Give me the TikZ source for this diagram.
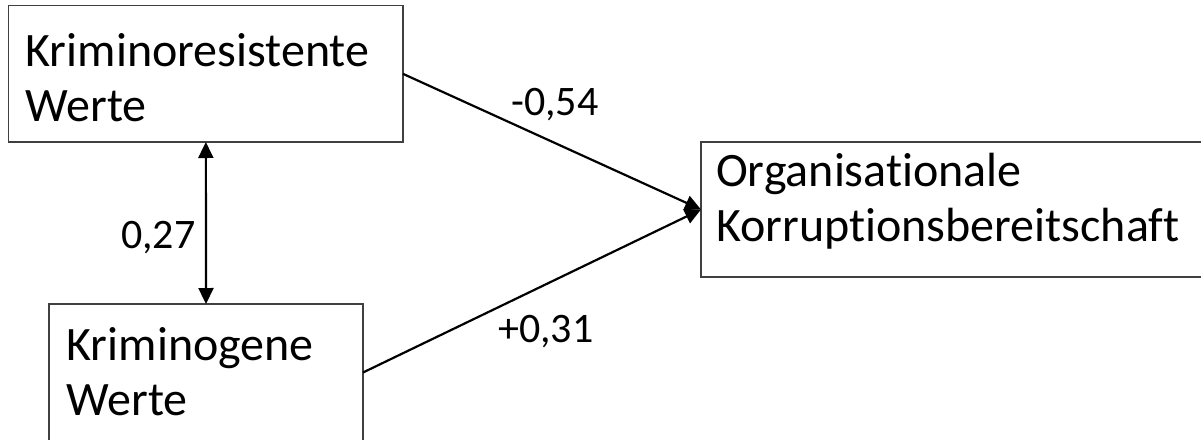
\documentclass[tikz,border=0pt]{standalone}
\usepackage{fontspec}
\setmainfont[Ligatures={NoCommon}]{Carlito}
\usetikzlibrary{arrows.meta}
\tikzset{
  box/.style={draw=black!75, line width=1.3pt, inner sep=0pt, outer sep=0pt, rectangle, anchor=north west},
  boxtext/.style={font=\fontsize{48}{55}\selectfont, inner sep=0pt, anchor=base west},
  coef/.style={font=\fontsize{42}{50}\selectfont, inner sep=0pt, anchor=base west},
  conn/.style={line width=2.2pt, black},
  tip/.style={-{Triangle[length=16pt,width=15pt]}},
  dtip/.style={{Triangle[length=16pt,width=15pt]}-{Triangle[length=16pt,width=15pt]}}
}
\begin{document}
\begin{tikzpicture}[x=1pt,y=-1pt]
\useasboundingbox (0,0) rectangle (1201,439);
\clip (0,0) rectangle (1201,439);
% boxes
\node[box, minimum width=394.3pt, minimum height=136.3pt] (kr) at (8.7,5.7) {};
\node[box, minimum width=314pt, minimum height=137pt] (kg) at (49,304) {};
\node[box, minimum width=520pt, minimum height=135pt] (kb) at (701,142) {};
% box texts
\node[boxtext] (kr1) at (25.5,66.7) {Kriminoresistente};
\node[boxtext] (kr2) at (25.5,121.7) {Werte};
\node[boxtext] (kg1) at (66.5,360) {Kriminogene};
\node[boxtext] (kg2) at (66.5,415) {Werte};
\node[boxtext] (kb1) at (716,186.7) {Organisationale};
\node[boxtext] (kb2) at (716,241.7) {Korruptionsbereitschaft};
% connectors
\draw[conn, dtip] (kr.south) -- (kg.north);
\draw[conn, tip] (kr.east) -- (kb.west);
\draw[conn, tip] (kg.east) -- (kb.west);
% coefficients
\node[coef] (c1) at (511,115) {-0,54};
\node[coef] (c2) at (498,342.7) {+0,31};
\node[coef] (c3) at (121,248) {0,27};
\end{tikzpicture}
\end{document}
